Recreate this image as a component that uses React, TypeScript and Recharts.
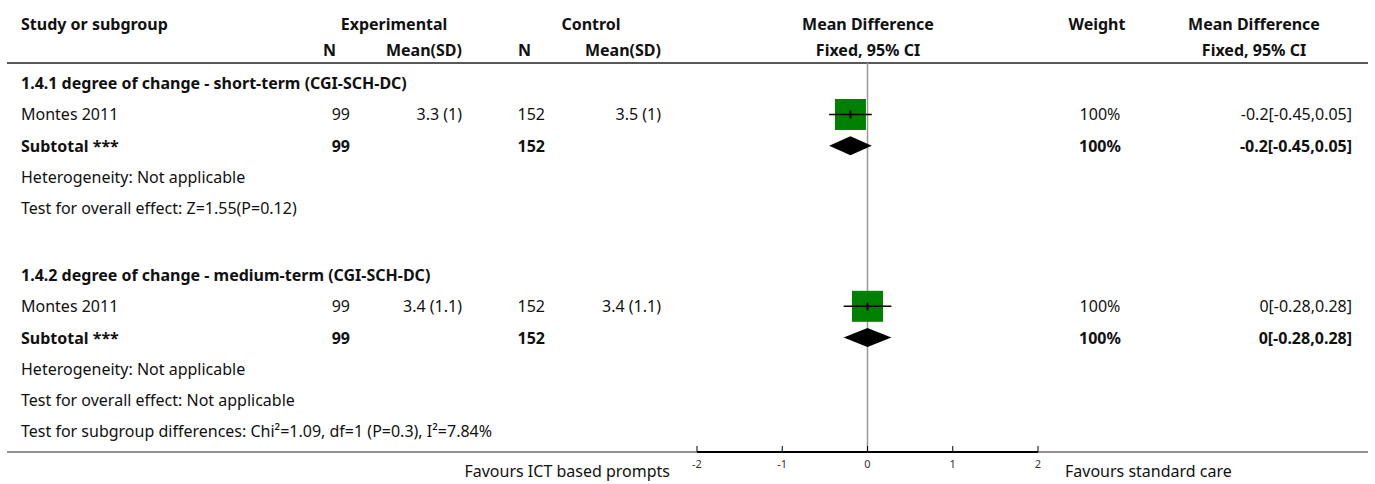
import React from 'react';
import { ComposedChart, Scatter, XAxis, YAxis, ReferenceLine } from 'recharts';

// subgroup / study data
const subgroupTitles = [
  '1.4.1 degree of change - short-term (CGI-SCH-DC)',
  '1.4.2 degree of change - medium-term (CGI-SCH-DC)',
];
const studyNames = ['Montes 2011', 'Montes 2011'];
const expN = [99, 99];
const expMeanSD = ['3.3 (1)', '3.4 (1.1)'];
const ctlN = [152, 152];
const ctlMeanSD = ['3.5 (1)', '3.4 (1.1)'];
const meanDiff = [-0.2, 0];
const ciLow = [-0.45, -0.28];
const ciHigh = [0.05, 0.28];
const weights = [100, 100];
const heterogeneity = ['Heterogeneity: Not applicable', 'Heterogeneity: Not applicable'];
const overallEffect = ['Test for overall effect: Z=1.55(P=0.12)', 'Test for overall effect: Not applicable'];
const subgroupTest = 'Test for subgroup differences: Chi²=1.09, df=1 (P=0.3), I²=7.84%';
const xTicks = [-2, -1, 0, 1, 2];
const favoursLeft = 'Favours ICT based prompts';
const favoursRight = 'Favours standard care';

// row slots (one unit per table line)
const groupStart = [0, 6.15];
const subgroupTestRow = 11.15;

const FONT = '"Noto Sans", sans-serif';
const W = 1375;
const H = 484;

// column layout for the table text
const cols: { x: number; anchor: 'start' | 'middle' | 'end' }[] = [
  { x: 21, anchor: 'start' },
  { x: 350, anchor: 'end' },
  { x: 462, anchor: 'end' },
  { x: 545, anchor: 'end' },
  { x: 661, anchor: 'end' },
  { x: 1100, anchor: 'middle' },
  { x: 1352, anchor: 'end' },
];

type Row = { x: number; row: number; bold: boolean; cells: string[] };

const fmt = (v: number) => String(v);
const ciText = (i: number) => `${fmt(meanDiff[i])}[${fmt(ciLow[i])},${fmt(ciHigh[i])}]`;

const tableRows: Row[] = [];
subgroupTitles.forEach((title, i) => {
  const r = groupStart[i];
  tableRows.push({ x: 0, row: r, bold: true, cells: [title] });
  tableRows.push({
    x: 0,
    row: r + 1,
    bold: false,
    cells: [studyNames[i], String(expN[i]), expMeanSD[i], String(ctlN[i]), ctlMeanSD[i], `${weights[i]}%`, ciText(i)],
  });
  tableRows.push({
    x: 0,
    row: r + 2,
    bold: true,
    cells: ['Subtotal ***', String(expN[i]), '', String(ctlN[i]), '', `${weights[i]}%`, ciText(i)],
  });
  tableRows.push({ x: 0, row: r + 3, bold: false, cells: [heterogeneity[i]] });
  tableRows.push({ x: 0, row: r + 4, bold: false, cells: [overallEffect[i]] });
});
tableRows.push({ x: 0, row: subgroupTestRow, bold: false, cells: [subgroupTest] });

const studyPoints = meanDiff.map((m, i) => ({ x: m, row: groupStart[i] + 1, weight: weights[i] }));
const ciPoints = meanDiff.flatMap((_, i) => [
  { x: ciLow[i], row: groupStart[i] + 1 },
  { x: ciHigh[i], row: groupStart[i] + 1 },
]);
const diamondPoints = meanDiff.flatMap((m, i) => [
  { x: ciLow[i], row: groupStart[i] + 2 },
  { x: m, row: groupStart[i] + 2 },
  { x: ciHigh[i], row: groupStart[i] + 2 },
]);

const TableText = (props: any) => {
  const { cy, payload } = props;
  const row = payload as Row;
  return (
    <g>
      {row.cells.map((c, j) =>
        c ? (
          <text
            key={j}
            x={cols[j].x}
            y={cy}
            textAnchor={cols[j].anchor}
            dominantBaseline="central"
            fontSize={16}
            fontWeight={row.bold ? 700 : 400}
            fill="#111"
          >
            {c}
          </text>
        ) : null
      )}
    </g>
  );
};

const StudyBox = (props: any) => {
  const { cx, cy, payload } = props;
  const side = 31 * Math.sqrt(payload.weight / 100);
  return (
    <g>
      <rect x={cx - side / 2} y={cy - side / 2} width={side} height={side} fill="#008000" />
      <line x1={cx} x2={cx} y1={cy - 4} y2={cy + 4} stroke="#000" strokeWidth={2} />
    </g>
  );
};

const Hidden = () => <g />;

const CiLines = (props: any) => {
  const pts: { x: number; y: number }[] = props.points || [];
  const segs = [];
  for (let i = 0; i + 1 < pts.length; i += 2) {
    segs.push(
      <line key={i} x1={pts[i].x} x2={pts[i + 1].x} y1={pts[i].y} y2={pts[i + 1].y} stroke="#000" strokeWidth={1.5} />
    );
  }
  return <g>{segs}</g>;
};

const Diamonds = (props: any) => {
  const pts: { x: number; y: number }[] = props.points || [];
  const polys = [];
  for (let i = 0; i + 2 < pts.length; i += 3) {
    const [a, m, b] = [pts[i], pts[i + 1], pts[i + 2]];
    const h = 9.5;
    polys.push(
      <polygon key={i} points={`${a.x},${m.y} ${m.x},${m.y - h} ${b.x},${m.y} ${m.x},${m.y + h}`} fill="#000" />
    );
  }
  return <g>{polys}</g>;
};

const AxisTick = (props: any) => {
  const { x, y, payload, index } = props;
  return (
    <g>
      <line x1={x} x2={x} y1={y} y2={y - 6} stroke="#000" strokeWidth={1} />
      <text x={x} y={y + 16} textAnchor="middle" fontSize={11} fill="#333">
        {payload.value}
      </text>
      {index === 0 && (
        <text x={x - 27} y={y + 25} textAnchor="end" fontSize={16} fill="#111">
          {favoursLeft}
        </text>
      )}
      {index === xTicks.length - 1 && (
        <text x={x + 27} y={y + 25} textAnchor="start" fontSize={16} fill="#111">
          {favoursRight}
        </text>
      )}
    </g>
  );
};

export default function App() {
  const top = 63;
  const axisY = 452;
  return (
    <div style={{ width: W, height: H, fontFamily: FONT, background: '#fff' }}>
      <style>{'body{margin:0}'}</style>
      <ComposedChart width={W} height={H} margin={{ top, right: W - 1038, bottom: 0, left: 697 }}>
        <XAxis
          type="number"
          dataKey="x"
          domain={[-2, 2]}
          ticks={xTicks}
          height={H - axisY}
          axisLine={{ stroke: '#000', strokeWidth: 2 }}
          tickLine={false}
          tickSize={0}
          tickMargin={0}
          tick={<AxisTick />}
          interval={0}
        />
        <YAxis type="number" dataKey="row" domain={[-0.65, 11.82]} reversed hide />
        <ReferenceLine x={0} stroke="#999" strokeWidth={1.5} />

        <g>
          <text x={21} y={24} dominantBaseline="central" fontSize={16} fontWeight={700} fill="#111">Study or subgroup</text>
          <text x={394} y={24} textAnchor="middle" dominantBaseline="central" fontSize={16} fontWeight={700} fill="#111">Experimental</text>
          <text x={591} y={24} textAnchor="middle" dominantBaseline="central" fontSize={16} fontWeight={700} fill="#111">Control</text>
          <text x={868} y={24} textAnchor="middle" dominantBaseline="central" fontSize={16} fontWeight={700} fill="#111">Mean Difference</text>
          <text x={1097} y={24} textAnchor="middle" dominantBaseline="central" fontSize={16} fontWeight={700} fill="#111">Weight</text>
          <text x={1254} y={24} textAnchor="middle" dominantBaseline="central" fontSize={16} fontWeight={700} fill="#111">Mean Difference</text>
          <text x={336} y={50} textAnchor="end" dominantBaseline="central" fontSize={16} fontWeight={700} fill="#111">N</text>
          <text x={462} y={50} textAnchor="end" dominantBaseline="central" fontSize={16} fontWeight={700} fill="#111">Mean(SD)</text>
          <text x={531} y={50} textAnchor="end" dominantBaseline="central" fontSize={16} fontWeight={700} fill="#111">N</text>
          <text x={661} y={50} textAnchor="end" dominantBaseline="central" fontSize={16} fontWeight={700} fill="#111">Mean(SD)</text>
          <text x={868} y={50} textAnchor="middle" dominantBaseline="central" fontSize={16} fontWeight={700} fill="#111">Fixed, 95% CI</text>
          <text x={1254} y={50} textAnchor="middle" dominantBaseline="central" fontSize={16} fontWeight={700} fill="#111">Fixed, 95% CI</text>
          <line x1={7} x2={1368} y1={top} y2={top} stroke="#222" strokeWidth={1.5} />
          <line x1={7} x2={1368} y1={axisY} y2={axisY} stroke="#222" strokeWidth={1} />
        </g>

        <Scatter data={tableRows} shape={<TableText />} isAnimationActive={false} />
        <Scatter data={studyPoints} shape={<StudyBox />} isAnimationActive={false} />
        <Scatter data={ciPoints} shape={<Hidden />} line={<CiLines />} isAnimationActive={false} />
        <Scatter data={diamondPoints} shape={<Hidden />} line={<Diamonds />} isAnimationActive={false} />
      </ComposedChart>
    </div>
  );
}
